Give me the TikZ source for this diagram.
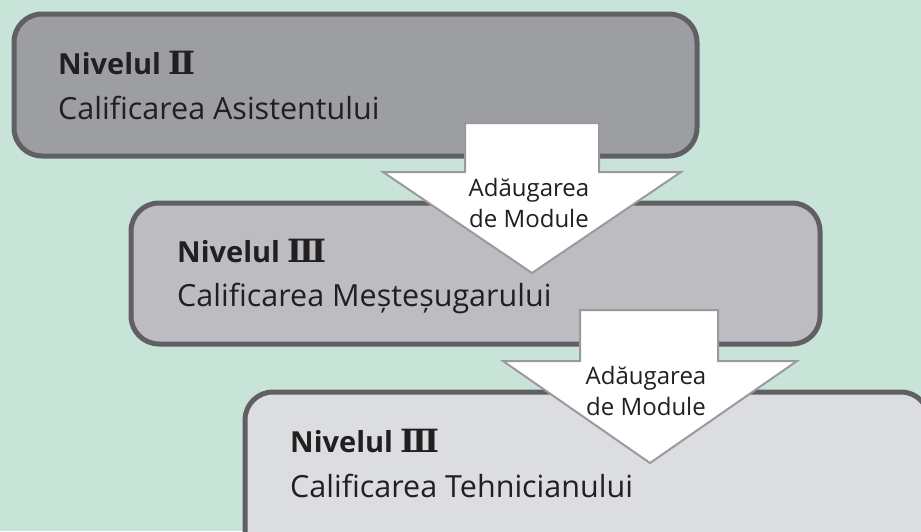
\documentclass[tikz,border=0pt]{standalone}
\usepackage{fontspec}
\setmainfont{Open Sans}
\newfontfamily\numfont{DejaVu Serif}
\usetikzlibrary{positioning}
\definecolor{bgmint}{HTML}{C8E4D8}
\definecolor{rimgray}{HTML}{606064}
\definecolor{levelone}{HTML}{9D9EA2}
\definecolor{leveltwo}{HTML}{BCBCC1}
\definecolor{levelthree}{HTML}{DCDDE0}
\definecolor{arrowrim}{HTML}{9A9A9E}
\definecolor{inkgray}{HTML}{231F20}
\tikzset{
  levelbox/.style={draw=rimgray, line width=5pt, rounded corners=28pt,
    anchor=north west, inner sep=0pt, outer sep=0pt},
  leveltitle/.style={anchor=base west, inner sep=0pt, text=inkgray,
    font=\fontsize{29}{34}\selectfont\bfseries},
  levelname/.style={anchor=base west, inner sep=0pt, text=inkgray,
    font=\fontsize{30.5}{34}\selectfont},
  addarrow/.style={draw=arrowrim, fill=white, line width=2pt, line join=miter},
  addtext/.style={align=center, text=inkgray, inner sep=0pt,
    font=\fontsize{24}{31}\selectfont}
}
\newcommand{\levelnum}[1]{{\numfont\fontsize{32}{36}\selectfont #1}}

\begin{document}
\begin{tikzpicture}[x=1pt,y=-1pt]
        % Background
        \useasboundingbox (0,0) rectangle (921,531);
        \clip (0,0) rectangle (921,531);
        \fill[bgmint] (0,0) rectangle (921,531);

        % Levels
        \node[levelbox, fill=levelone, minimum width=683pt, minimum height=142pt] (assist) at (14,14) {};
        \node[levelbox, fill=leveltwo, minimum width=689pt, minimum height=141pt] (craft) at (131,203) {};
        \node[levelbox, fill=levelthree, minimum width=684pt, minimum height=170pt] (tech) at (245,392) {};

        \node[leveltitle] (assisttitle) at (58,74) {Nivelul \levelnum{Ⅱ}};
        \node[levelname] (assistname) at (58,119) {Calificarea Asistentului};
        \node[leveltitle] (crafttitle) at (177,262) {Nivelul \levelnum{Ⅲ}};
        \node[levelname] (craftname) at (177,306) {Calificarea Meșteșugarului};
        \node[leveltitle] (techtitle) at (290,452) {Nivelul \levelnum{Ⅲ}};
        \node[levelname] (techname) at (290,497) {Calificarea Tehnicianului};

        % Arrows
        \draw[addarrow] (465,123) -- (599,123) -- (599,172) -- (681,172)
          -- (532,273) -- (383,172) -- (465,172) -- cycle;
        \node[addtext] (addone) at (529,203) {Adăugarea\\de Module};

        \draw[addarrow] (580,310) -- (718,310) -- (718,361) -- (797,361)
          -- (650,463) -- (503,361) -- (580,361) -- cycle;
        \node[addtext] (addtwo) at (646,391) {Adăugarea\\de Module};

      \end{tikzpicture}
\end{document}
